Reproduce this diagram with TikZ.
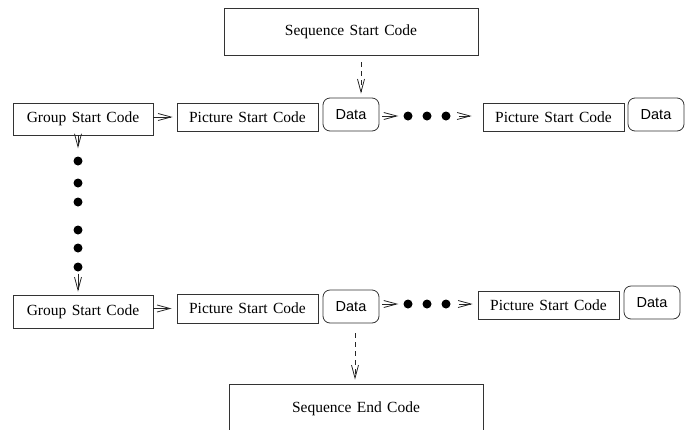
\documentclass[tikz,border=0pt]{standalone}
\usepackage{fontspec}
\setmainfont{Liberation Serif}[WordSpace=1.4]
\setsansfont{Liberation Sans}
\usetikzlibrary{arrows.meta}
\tikzset{
  codebox/.style={draw=black!80, line width=0.8pt, inner sep=0pt, font=\fontsize{15.5}{18}\selectfont},
  databox/.style={draw=black!80, line width=0.8pt, rounded corners=7pt, inner sep=0pt, minimum width=56pt, minimum height=33pt, font=\sffamily\fontsize{14.5}{17}\selectfont},
  blob/.style={circle, fill=black, inner sep=0pt, minimum size=9pt},
  flow/.style={-{Straight Barb[length=13pt,width=7pt]}, line width=0.8pt, black!85},
  seqflow/.style={flow, dash pattern=on 5pt off 4pt},
}

\begin{document}
\begin{tikzpicture}[x=1pt,y=-1pt]
  \useasboundingbox (0,0) rectangle (685,429);
  \node[codebox, minimum width=254pt, minimum height=47pt] (seqstart) at (351,31.5) {Sequence Start Code};
  % first group of pictures
  \node[codebox, minimum width=140pt, minimum height=32pt] (gsc1) at (83,119) {Group Start Code};
  \node[codebox, minimum width=141pt, minimum height=28pt] (psc1) at (247.5,117) {Picture Start Code};
  \node[databox] (data1) at (351,114.5) {Data};
  \node[codebox, minimum width=141pt, minimum height=28pt] (psc2) at (553.5,117) {Picture Start Code};
  \node[databox] (data2) at (656,114.5) {Data};
  % last group of pictures
  \node[codebox, minimum width=140pt, minimum height=33pt] (gsc2) at (83,311.5) {Group Start Code};
  \node[codebox, minimum width=141pt, minimum height=29pt] (psc3) at (247.5,308.5) {Picture Start Code};
  \node[databox] (data3) at (351,306.5) {Data};
  \node[codebox, minimum width=141pt, minimum height=28pt] (psc4) at (548.5,305) {Picture Start Code};
  \node[databox] (data4) at (652,302.5) {Data};
  \node[codebox, minimum width=254pt, minimum height=50pt] (seqend) at (356,409) {Sequence End Code};
  % dots
  \foreach \y [count=\i] in {161,183,202,230,248,267}
    \node[blob] (v\i) at (78,\y) {};
  \foreach \x [count=\i] in {408,427,446} {
    \node[blob] (ra\i) at (\x,116) {};
    \node[blob] (rb\i) at (\x,304) {};
  }
  \draw[seqflow, shorten <=7pt, shorten >=4pt] ([xshift=10pt]seqstart.south) -- ([xshift=10pt]data1.north);
  \draw[seqflow, shorten <=10pt, shorten >=4pt] ([xshift=4pt]data3.south) -- ([xshift=4pt]data3.south |- seqend.north);
  \draw[flow, shorten >=8pt] (gsc1.south -| v1) -- (v1);
  \draw[flow, shorten <=2pt, shorten >=3pt] (v6) -- (v6 |- gsc2.north);
  \draw[flow, shorten >=4pt] (gsc1.east |- psc1.west) -- (psc1.west);
  \draw[flow, shorten >=5pt] (gsc2.east |- psc3.west) -- (psc3.west);
  \draw[flow, shorten <=3pt, shorten >=5pt] (data1.east |- ra1) -- (ra1);
  \draw[flow, shorten <=8pt, shorten >=11pt] (ra3) -- (psc2.west |- ra3);
  \draw[flow, shorten <=3pt, shorten >=5pt] (data3.east |- rb1) -- (rb1);
  \draw[flow, shorten <=8pt, shorten >=5pt] (rb3) -- (psc4.west |- rb3);
\end{tikzpicture}
\end{document}
